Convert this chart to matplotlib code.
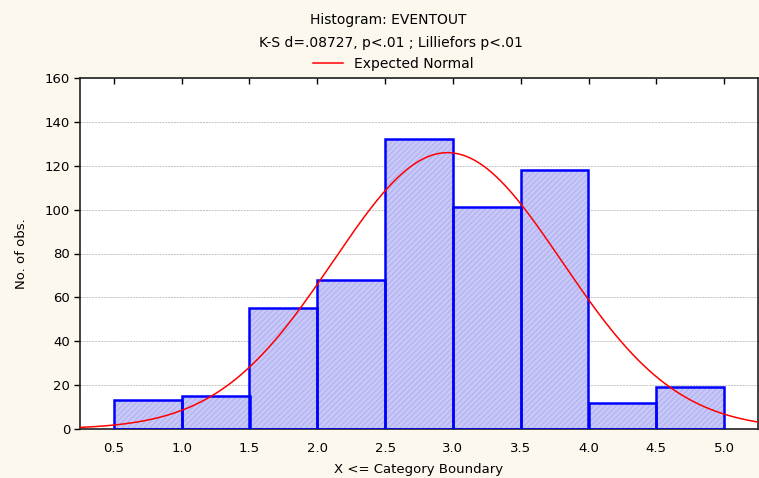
import numpy as np
import matplotlib
matplotlib.use("Agg")
import matplotlib.pyplot as plt

# Data
bin_edges = [0.5, 1.0, 1.5, 2.0, 2.5, 3.0, 3.5, 4.0, 4.5, 5.0]
counts = [13, 15, 55, 68, 132, 101, 118, 12, 19]
x_ticks = [0.5, 1.0, 1.5, 2.0, 2.5, 3.0, 3.5, 4.0, 4.5, 5.0]
x_tick_labels = ["0.5", "1.0", "1.5", "2.0", "2.5", "3.0", "3.5", "4.0", "4.5", "5.0"]
y_ticks = [0, 20, 40, 60, 80, 100, 120, 140, 160]
# Expected normal parameters
normal_mean = 2.96
normal_sd = 0.844
n_obs = sum(counts)
bin_width = 0.5

plt.rcParams['font.family'] = ['DejaVu Sans']
FS = 9.5
FT = 10

fig = plt.figure(figsize=(7.59, 4.78), dpi=100)
fig.patch.set_facecolor('#fdf8ee')
ax = fig.add_axes([80/759, 49/478, 678/759, 351/478])
ax.set_facecolor('white')

lefts = np.array(bin_edges[:-1])
widths = np.diff(bin_edges)
# fill with hatch
ax.bar(lefts, counts, width=widths, align='edge', color='#c8c8f9',
       edgecolor='#b4b4f0', hatch='//////', linewidth=0, zorder=2)
# outlines
ax.bar(lefts, counts, width=widths, align='edge', fill=False,
       edgecolor='#0000ff', linewidth=1.8, zorder=3)

xs = np.linspace(0.25, 5.25, 400)
ys = n_obs * bin_width / (normal_sd * np.sqrt(2 * np.pi)) * np.exp(-0.5 * ((xs - normal_mean) / normal_sd) ** 2)
ax.plot(xs, ys, color='#ff0000', linewidth=1.1, zorder=4, label='Expected Normal')

ax.set_xlim(0.25, 5.25)
ax.set_ylim(0, 160)
ax.set_xticks(x_ticks)
ax.set_xticklabels(x_tick_labels)
ax.set_yticks(y_ticks)
ax.yaxis.grid(True, color='#c4c4c4', linestyle=(0, (2, 1)), linewidth=0.7, zorder=0)
ax.set_axisbelow(True)

ax.tick_params(axis='y', direction='out', length=4, width=1, labelsize=FS, right=True, pad=3)
ax.tick_params(axis='x', direction='in', length=4, width=1, labelsize=FS, top=True, pad=9)
for s in ax.spines.values():
    s.set_linewidth(1.2)
    s.set_color('#222222')

ax.set_xlabel('X <= Category Boundary', fontsize=FS, labelpad=6)
ax.set_ylabel('No. of obs.', fontsize=FS, labelpad=12)

fig.text(0.512, 1 - 20/478, 'Histogram: EVENTOUT', ha='center', va='center', fontsize=FT)
fig.text(0.515, 1 - 43/478, 'K-S d=.08727, p<.01 ; Lilliefors p<.01', ha='center', va='center', fontsize=FT)
leg = ax.legend(loc='lower center', bbox_to_anchor=(0.462, 1.0), frameon=False,
                fontsize=FT, handlelength=2.2, borderaxespad=0.1)

fig.savefig('out.png', dpi=100, facecolor=fig.get_facecolor())
